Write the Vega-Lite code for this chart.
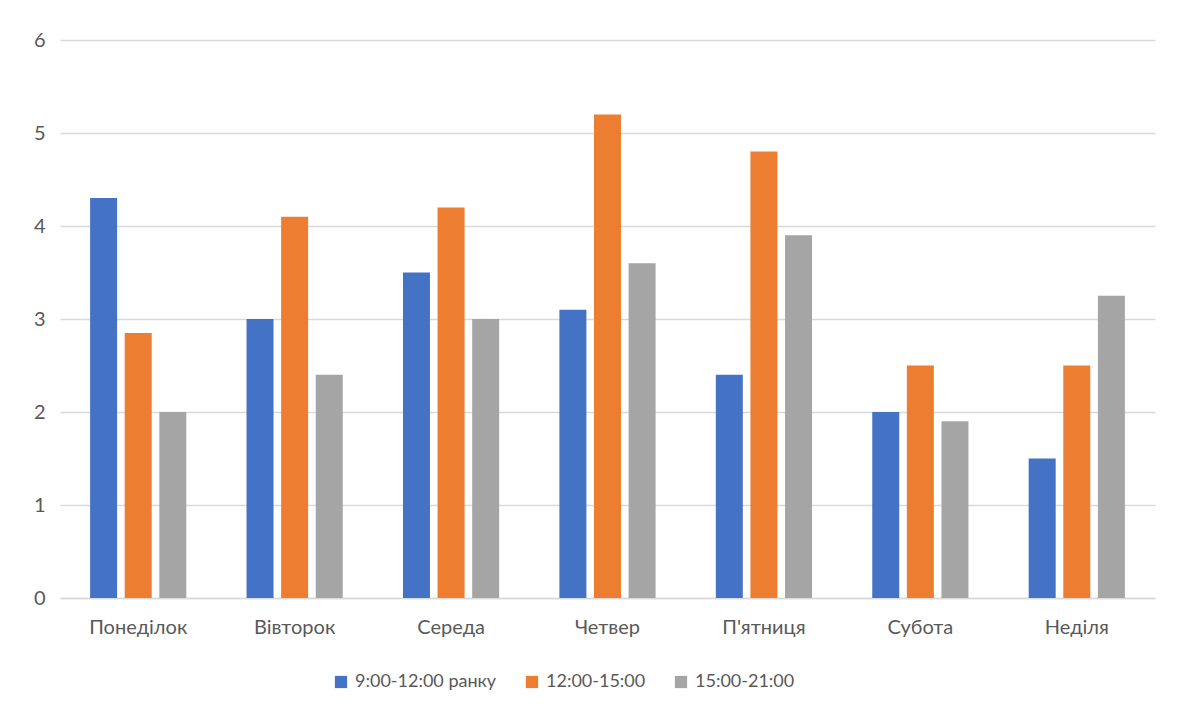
{
  "$schema": "https://vega.github.io/schema/vega-lite/v6.json",
  "width": 1095,
  "height": 558,
  "autosize": {"type": "none"},
  "padding": {"left": 60, "top": 40, "right": 26, "bottom": 118},
  "background": "white",
  "data": {
    "values": [
      {"day": "Понеділок", "period": "9:00-12:00 ранку", "value": 4.3},
      {"day": "Понеділок", "period": "12:00-15:00", "value": 2.85},
      {"day": "Понеділок", "period": "15:00-21:00", "value": 2.0},
      {"day": "Вівторок", "period": "9:00-12:00 ранку", "value": 3.0},
      {"day": "Вівторок", "period": "12:00-15:00", "value": 4.1},
      {"day": "Вівторок", "period": "15:00-21:00", "value": 2.4},
      {"day": "Середа", "period": "9:00-12:00 ранку", "value": 3.5},
      {"day": "Середа", "period": "12:00-15:00", "value": 4.2},
      {"day": "Середа", "period": "15:00-21:00", "value": 3.0},
      {"day": "Четвер", "period": "9:00-12:00 ранку", "value": 3.1},
      {"day": "Четвер", "period": "12:00-15:00", "value": 5.2},
      {"day": "Четвер", "period": "15:00-21:00", "value": 3.6},
      {"day": "П'ятниця", "period": "9:00-12:00 ранку", "value": 2.4},
      {"day": "П'ятниця", "period": "12:00-15:00", "value": 4.8},
      {"day": "П'ятниця", "period": "15:00-21:00", "value": 3.9},
      {"day": "Субота", "period": "9:00-12:00 ранку", "value": 2.0},
      {"day": "Субота", "period": "12:00-15:00", "value": 2.5},
      {"day": "Субота", "period": "15:00-21:00", "value": 1.9},
      {"day": "Неділя", "period": "9:00-12:00 ранку", "value": 1.5},
      {"day": "Неділя", "period": "12:00-15:00", "value": 2.5},
      {"day": "Неділя", "period": "15:00-21:00", "value": 3.25}
    ]
  },
  "mark": {"type": "bar"},
  "encoding": {
    "x": {
      "field": "day",
      "type": "nominal",
      "sort": null,
      "scale": {"paddingInner": 0.385, "paddingOuter": 0.1925},
      "axis": {
        "title": null,
        "labelAngle": 0,
        "ticks": false,
        "domain": true,
        "domainColor": "#d9d9d9",
        "domainWidth": 1.5,
        "labelPadding": 19,
        "labelFontSize": 20,
        "labelColor": "#595959",
        "labelFont": "Lato"
      }
    },
    "xOffset": {
      "field": "period",
      "type": "nominal",
      "sort": ["9:00-12:00 ранку", "12:00-15:00", "15:00-21:00"],
      "scale": {"paddingInner": 0.22, "paddingOuter": 0}
    },
    "y": {
      "field": "value",
      "type": "quantitative",
      "scale": {"domain": [0, 6], "nice": false},
      "axis": {
        "title": null,
        "values": [0, 1, 2, 3, 4, 5, 6],
        "ticks": false,
        "domain": false,
        "gridColor": "#d9d9d9",
        "gridWidth": 1.5,
        "labelPadding": 15,
        "labelFontSize": 20,
        "labelColor": "#595959",
        "labelFont": "Lato"
      }
    },
    "color": {
      "field": "period",
      "type": "nominal",
      "sort": ["9:00-12:00 ранку", "12:00-15:00", "15:00-21:00"],
      "scale": {
        "domain": ["9:00-12:00 ранку", "12:00-15:00", "15:00-21:00"],
        "range": ["#4472c4", "#ed7d31", "#a5a5a5"]
      },
      "legend": {
        "title": null,
        "orient": "none",
        "direction": "horizontal",
        "legendX": 272,
        "legendY": 633,
        "symbolType": "square",
        "symbolSize": 150,
        "symbolStrokeWidth": 0,
        "labelFontSize": 18,
        "labelColor": "#595959",
        "labelFont": "Lato",
        "labelOffset": 5,
        "columnPadding": 26
      }
    }
  },
  "config": {
    "view": {"stroke": null}
  }
}
